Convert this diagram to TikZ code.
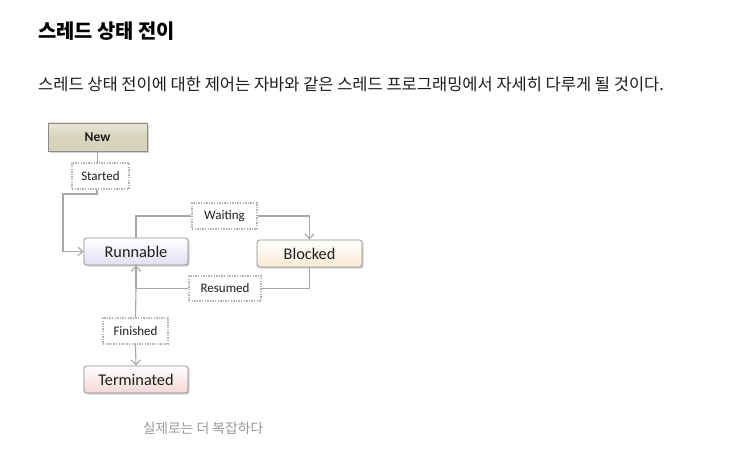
\documentclass[tikz,border=0pt]{standalone}
\usepackage{fontspec}
\setmainfont{Carlito}
\newfontfamily\krfont{Noto Sans CJK KR}
\newfontfamily\carl{Carlito}
\usetikzlibrary{arrows.meta,shadows,calc}
\definecolor{linegray}{HTML}{A8A8A8}
\definecolor{dotgray}{HTML}{B4B4B4}
\definecolor{newfill}{HTML}{D8D4BC}
\definecolor{runfill}{HTML}{E4DEF5}
\definecolor{blkfill}{HTML}{FBEAD3}
\definecolor{termfill}{HTML}{F5D6D6}
\definecolor{boxborder}{HTML}{8C8C8C}
\definecolor{captiongray}{HTML}{999999}
\definecolor{textdark}{HTML}{1E1E1E}
\begin{document}
\begin{tikzpicture}[x=1pt,y=-1pt,
  statebox/.style={draw=boxborder, line width=0.8pt, rounded corners=2.5pt,
    minimum width=104pt, minimum height=27pt, inner sep=0pt,
    font=\carl\fontsize{16.3}{18}\selectfont, text=textdark,
    drop shadow={shadow xshift=1.6pt, shadow yshift=-1.6pt, opacity=0.35}},
  lbl/.style={draw=dotgray, line width=1.4pt, dash pattern=on 1.4pt off 1.2pt,
    fill=white, inner sep=0pt, font=\carl\fontsize{13}{15}\selectfont, text=textdark},
  conn/.style={draw=linegray, line width=1.1pt},
  arr/.style={conn, -{Straight Barb[length=5pt,width=9pt,line width=1.1pt]}}
]
\useasboundingbox (0,0) rectangle (746,462);
\fill[white] (0,0) rectangle (746,462);

% headings
\node[anchor=west, inner sep=0pt, font=\krfont\bfseries\fontsize{19.8}{22}\selectfont, text=black] (title) at (38,31) {스레드 상태 전이};
\node[anchor=west, inner sep=0pt, font=\krfont\fontsize{16.5}{18}\selectfont, text=textdark] (body) at (38,84) {스레드 상태 전이에 대한 제어는 자바와 같은 스레드 프로그래밍에서 자세히 다루게 될 것이다.};

% states
\node[statebox, rounded corners=0pt, minimum width=99pt, minimum height=28pt,
  top color=newfill!60!white, bottom color=newfill, middle color=newfill,
  font=\carl\bfseries\fontsize{13.5}{15}\selectfont] (new) at (97.5,137) {New};
\node[statebox, top color=white, bottom color=runfill] (run) at (136,251.5) {Runnable};
\node[statebox, top color=white, bottom color=blkfill, minimum width=105pt] (blk) at (309.5,253.5) {Blocked};
\node[statebox, top color=white, bottom color=termfill] (term) at (136,379.5) {Terminated};

% labels
\node[lbl, minimum width=57pt, minimum height=26pt] (started) at (100.5,176) {Started};
\node[lbl, minimum width=65pt, minimum height=26pt] (waiting) at (224.5,216) {Waiting};
\node[lbl, minimum width=72pt, minimum height=25pt] (resumed) at (225,288.5) {Resumed};
\node[lbl, minimum width=65pt, minimum height=26pt] (finished) at (135.5,331) {Finished};

% caption
\node[inner sep=0pt, font=\krfont\fontsize{13.8}{15}\selectfont, text=captiongray] (cap) at (203,428) {실제로는 더 복잡하다};

% connectors
\coordinate (s1) at ($(started.south)+(-3.5,0)$);
\coordinate (bend1) at (63,194);
\draw[conn] (new.south) -- (new.south |- started.north);
\draw[arr] (s1) |- (bend1) |- (run.west);
\draw[conn] (run.north) |- (waiting.west);
\draw[arr] (waiting.east) -| (blk.north);
\draw[conn] (blk.south) |- (resumed.east);
\draw[arr] (resumed.west) -| (run.south);
\draw[conn] (finished.north) -- (run.south |- resumed.west);
\draw[arr] (finished.south) -- (term.north);
\end{tikzpicture}
\end{document}
